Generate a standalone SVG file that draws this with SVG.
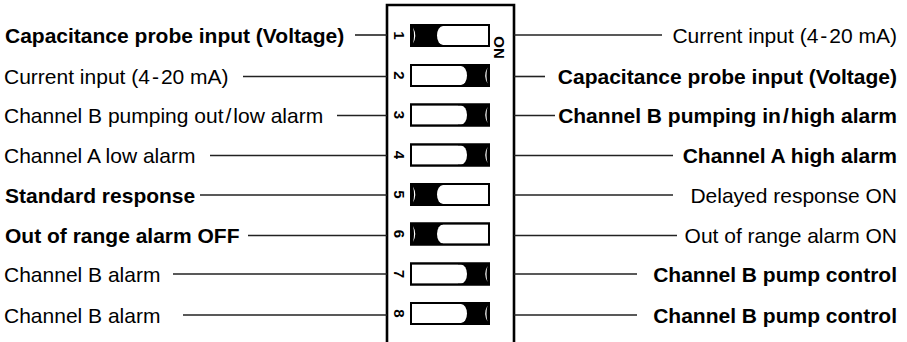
<svg xmlns="http://www.w3.org/2000/svg" width="907" height="342" viewBox="0 0 907 342">
<style>
text{font-family:"Liberation Sans",Arial,sans-serif;font-size:21px;fill:#000}
.b{font-weight:bold}
.r{text-anchor:end}
.n{font-size:15px;font-weight:bold;text-anchor:middle}
.c line{stroke:#222;stroke-width:1.6}
.sw{fill:#fff;stroke:#000;stroke-width:2}
.blk{fill:#000}
.wh{fill:#fff}
</style>
<rect width="907" height="342" fill="#fff"/>
<g id="housing">
<path d="M387,350 V5 H514 V350" fill="none" stroke="#000" stroke-width="2.6"/>
<text class="n" transform="translate(494,47.5) rotate(90)">ON</text>
</g>
<g id="connectors" class="c">
<line x1="355" y1="35" x2="387" y2="35"/>
<line x1="243" y1="76.5" x2="387" y2="76.5"/>
<line x1="337" y1="115.5" x2="387" y2="115.5"/>
<line x1="210" y1="155.5" x2="387" y2="155.5"/>
<line x1="200" y1="195" x2="387" y2="195"/>
<line x1="248" y1="235.5" x2="387" y2="235.5"/>
<line x1="173" y1="274" x2="387" y2="274"/>
<line x1="183" y1="315" x2="387" y2="315"/>
<line x1="514" y1="35" x2="662" y2="35"/>
<line x1="514" y1="76.5" x2="545" y2="76.5"/>
<line x1="514" y1="115.5" x2="555" y2="115.5"/>
<line x1="514" y1="155.5" x2="673" y2="155.5"/>
<line x1="514" y1="195" x2="673" y2="195"/>
<line x1="514" y1="235.5" x2="677" y2="235.5"/>
<line x1="514" y1="274" x2="637" y2="274"/>
<line x1="514" y1="315" x2="637" y2="315"/>
</g>
<defs>
<g id="swL">
<rect class="sw" x="411" y="-10.5" width="78" height="21"/>
<rect class="blk" x="411" y="-10.5" width="32" height="21"/>
<path class="wh" d="M489,-9.5 H443 A6,9.5 0 0 0 443,9.5 H489 Z"/>
<path class="wh" d="M413,-8 Q417.5,0 413,8 Q415,0 413,-8 Z"/>
<rect x="411" y="-10.5" width="78" height="21" fill="none" stroke="#000" stroke-width="2"/>
</g>
<g id="swR">
<rect class="sw" x="411" y="-10.5" width="78" height="21"/>
<rect class="blk" x="458" y="-10.5" width="31" height="21"/>
<path class="wh" d="M411,-9.5 H461 A6,9.5 0 0 1 461,9.5 H411 Z"/>
<path class="wh" d="M487.5,-8 Q483,0 487.5,8 Q485.5,0 487.5,-8 Z"/>
<rect x="411" y="-10.5" width="78" height="21" fill="none" stroke="#000" stroke-width="2"/>
</g>
</defs>
<g id="switch1"><use href="#swL" transform="translate(0,35.5)"/><text class="n" transform="translate(394,35.5) rotate(90)">1</text></g>
<g id="switch2"><use href="#swR" transform="translate(0,75.5)"/><text class="n" transform="translate(394,75.5) rotate(90)">2</text></g>
<g id="switch3"><use href="#swR" transform="translate(0,115)"/><text class="n" transform="translate(394,115) rotate(90)">3</text></g>
<g id="switch4"><use href="#swR" transform="translate(0,155)"/><text class="n" transform="translate(394,155) rotate(90)">4</text></g>
<g id="switch5"><use href="#swL" transform="translate(0,194.5)"/><text class="n" transform="translate(394,194.5) rotate(90)">5</text></g>
<g id="switch6"><use href="#swL" transform="translate(0,234)"/><text class="n" transform="translate(394,234) rotate(90)">6</text></g>
<g id="switch7"><use href="#swR" transform="translate(0,274)"/><text class="n" transform="translate(394,274) rotate(90)">7</text></g>
<g id="switch8"><use href="#swR" transform="translate(0,313.5)"/><text class="n" transform="translate(394,313.5) rotate(90)">8</text></g>
<g id="left-labels">
<text class="b" x="5" y="42.5">Capacitance probe input (Voltage)</text>
<text x="4" y="84">Current input (4<tspan dx="2">-</tspan><tspan dx="2">20 mA)</tspan></text>
<text x="4" y="123">Channel B pumping out<tspan dx="2">/</tspan><tspan dx="2">low alarm</tspan></text>
<text x="4" y="163">Channel A low alarm</text>
<text class="b" x="5" y="202.5">Standard response</text>
<text class="b" x="5" y="243">Out of range alarm OFF</text>
<text x="4" y="281.5">Channel B alarm</text>
<text x="4" y="322.5">Channel B alarm</text>
</g>
<g id="right-labels">
<text class="r" x="897" y="42.5">Current input (4<tspan dx="2">-</tspan><tspan dx="2">20 mA)</tspan></text>
<text class="b r" x="897" y="84">Capacitance probe input (Voltage)</text>
<text class="b r" x="897" y="123">Channel B pumping in<tspan dx="2">/</tspan><tspan dx="2">high alarm</tspan></text>
<text class="b r" x="897" y="163">Channel A high alarm</text>
<text class="r" x="897" y="202.5">Delayed response ON</text>
<text class="r" x="897" y="243">Out of range alarm ON</text>
<text class="b r" x="897" y="281.5">Channel B pump control</text>
<text class="b r" x="897" y="322.5">Channel B pump control</text>
</g>
</svg>
